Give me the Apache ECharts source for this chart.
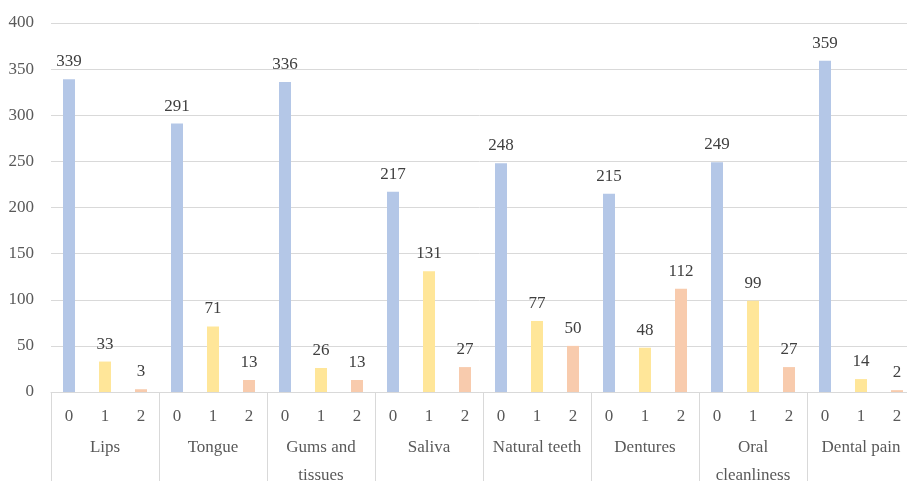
<!DOCTYPE html>
<html>
<head>
<meta charset="utf-8">
<script src="https://cdn.jsdelivr.net/npm/echarts@6/dist/echarts.min.js"></script>
<style>
  html, body { margin: 0; padding: 0; background: #fff; }
  #chart { width: 907px; height: 481px; }
</style>
</head>
<body>
<div id="chart"></div>
<script>
// groups and sub-levels
const groups = ['Lips', 'Tongue', 'Gums and\ntissues', 'Saliva', 'Natural teeth', 'Dentures', 'Oral\ncleanliness', 'Dental pain'];
const levels = ['0', '1', '2'];
// counts per level, one entry per group
const level0 = [339, 291, 336, 217, 248, 215, 249, 359];
const level1 = [33, 71, 26, 131, 77, 48, 99, 14];
const level2 = [3, 13, 13, 27, 50, 112, 27, 2];
const levelColors = ['#B4C7E7', '#FFE699', '#F8CBAD'];
const yTicks = { min: 0, max: 400, interval: 50 };

const textColor = '#595959';
const lineColor = '#D9D9D9';
const fontFamily = '"Liberation Serif", "DejaVu Serif", serif';

// flatten to one category per (group, level)
const subCats = [];
const barData = [];
const byLevel = [level0, level1, level2];
groups.forEach(function(g, gi) {
    levels.forEach(function(l, li) {
        subCats.push(l);
        barData.push({ value: byLevel[li][gi], itemStyle: { color: levelColors[li] } });
    });
});

const chart = echarts.init(document.getElementById('chart'));

const option = {
    animation: false,
    textStyle: { fontFamily: fontFamily },
    grid: {
        left: 51,
        top: 23,
        width: 864,
        bottom: 89,
        containLabel: false,
        outerBoundsMode: 'none'
    },
    xAxis: [
        {
            type: 'category',
            data: subCats,
            axisLine: { lineStyle: { color: lineColor } },
            axisTick: { show: false },
            axisLabel: {
                color: textColor,
                fontSize: 17,
                fontFamily: fontFamily,
                margin: 16,
                interval: 0
            }
        },
        {
            type: 'category',
            data: groups,
            position: 'bottom',
            axisLine: { show: false },
            axisTick: { show: true, length: 92, lineStyle: { color: lineColor } },
            axisLabel: {
                color: textColor,
                fontSize: 17,
                fontFamily: fontFamily,
                margin: 42,
                lineHeight: 28,
                verticalAlign: 'top',
                interval: 0
            }
        }
    ],
    yAxis: {
        type: 'value',
        min: yTicks.min,
        max: yTicks.max,
        interval: yTicks.interval,
        axisLine: { show: false },
        axisTick: { show: false },
        axisLabel: {
            color: textColor,
            fontSize: 17,
            fontFamily: fontFamily,
            margin: 17
        },
        splitLine: { lineStyle: { color: lineColor } }
    },
    series: [{
        type: 'bar',
        xAxisIndex: 0,
        barWidth: 12,
        data: barData,
        label: {
            show: true,
            position: 'top',
            distance: 9,
            color: '#404040',
            fontSize: 17,
            fontFamily: fontFamily
        }
    }]
};

chart.setOption(option);
</script>
</body>
</html>
